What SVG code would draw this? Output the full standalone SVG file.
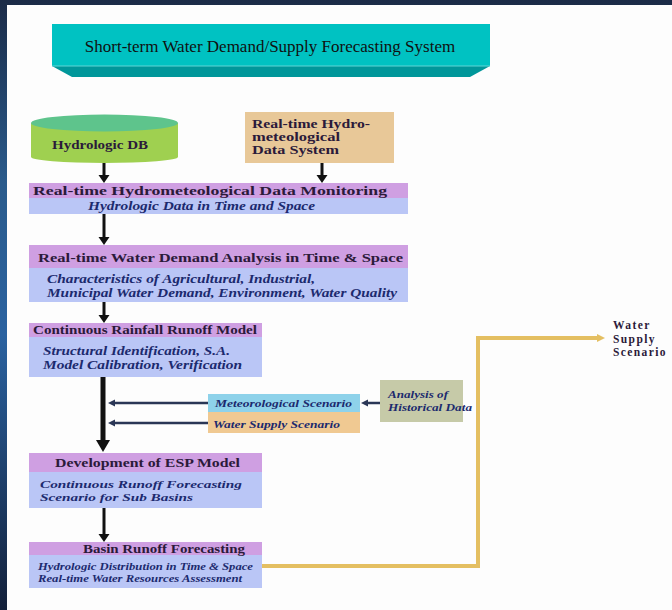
<svg xmlns="http://www.w3.org/2000/svg" width="672" height="610" viewBox="0 0 672 610">
<defs>
<linearGradient id="bg" x1="0" y1="0" x2="0" y2="1">
<stop offset="0" stop-color="#1b2b47"/>
<stop offset="0.3" stop-color="#2a5b8c"/>
<stop offset="0.55" stop-color="#2a62a0"/>
<stop offset="1" stop-color="#13203a"/>
</linearGradient>
<marker id="ab" markerUnits="userSpaceOnUse" markerWidth="12" markerHeight="12" refX="0" refY="5.5" orient="auto"><path d="M0,0 L8,5.5 L0,11 Z" fill="#111"/></marker>
<marker id="abig" markerUnits="userSpaceOnUse" markerWidth="14" markerHeight="16" refX="0" refY="7" orient="auto"><path d="M0,0 L12,7 L0,14 Z" fill="#111"/></marker>
<marker id="an" markerUnits="userSpaceOnUse" markerWidth="10" markerHeight="10" refX="0" refY="3.5" orient="auto"><path d="M0,0 L7,3.5 L0,7 Z" fill="#2a3656"/></marker>
<marker id="ao" markerUnits="userSpaceOnUse" markerWidth="12" markerHeight="12" refX="0" refY="4" orient="auto"><path d="M0,0 L8,4 L0,8 Z" fill="#e4bf62"/></marker>
<style>
.hd{font-family:"Liberation Serif","Times New Roman",serif;font-weight:bold;font-size:12px;fill:#2b1a3a}
.it{font-family:"Liberation Serif","Times New Roman",serif;font-weight:bold;font-style:italic;font-size:12px;fill:#1c2a6e}
.pu{fill:#cf9fe2}
.bl{fill:#bac6f6}
.blk{stroke:#111;stroke-width:3;fill:none}
.nav{stroke:#2a3656;stroke-width:2.5;fill:none}
</style>
</defs>
<rect x="0" y="0" width="672" height="610" fill="url(#bg)"/>
<rect x="7" y="5" width="665" height="605" fill="#fdfdfd"/>

<g id="title">
<rect x="52" y="24" width="438" height="42" fill="#00c2c2"/>
<polygon points="52,66 490,66 470,77 72,77" fill="#00979a"/>
<line x1="52" y1="66" x2="490" y2="66" stroke="#5fd6d6" stroke-width="1"/>
<text x="270" y="52" text-anchor="middle" font-family="'Liberation Serif','Times New Roman',serif" font-size="17" fill="#101010">Short-term Water Demand/Supply Forecasting System</text>
</g>

<g id="connectors">
<line class="blk" x1="104" y1="162" x2="104" y2="175" marker-end="url(#ab)"/>
<line class="blk" x1="322" y1="163" x2="322" y2="175" marker-end="url(#ab)"/>
<line class="blk" x1="104" y1="214" x2="104" y2="237" marker-end="url(#ab)"/>
<line class="blk" x1="104" y1="302" x2="104" y2="315" marker-end="url(#ab)"/>
<line x1="103" y1="377" x2="103" y2="440" stroke="#111" stroke-width="5" marker-end="url(#abig)"/>
<line class="blk" x1="104" y1="508" x2="104" y2="534" marker-end="url(#ab)"/>
<line class="nav" x1="208" y1="403" x2="115" y2="403" marker-end="url(#an)"/>
<line class="nav" x1="208" y1="423" x2="115" y2="423" marker-end="url(#an)"/>
<line class="nav" x1="380" y1="403" x2="368" y2="403" marker-end="url(#an)"/>
<polyline points="262,566 478,566 478,338 597,338" fill="none" stroke="#e4bf62" stroke-width="4" marker-end="url(#ao)"/>
</g>

<g id="hydrologic-db">
<path d="M31,123 L31,157 A73.5,6 0 0 0 178,157 L178,123 Z" fill="#9fd050"/>
<ellipse cx="104.5" cy="123" rx="73.5" ry="8.5" fill="#5ec48c"/>
<text class="hd" x="52" y="149" textLength="96" lengthAdjust="spacingAndGlyphs">Hydrologic DB</text>
</g>

<g id="data-system">
<rect x="245" y="112" width="149" height="51" fill="#e8c898"/>
<text class="hd" x="252" y="128" textLength="118" lengthAdjust="spacingAndGlyphs">Real-time Hydro-</text>
<text class="hd" x="252" y="141" textLength="88" lengthAdjust="spacingAndGlyphs">meteological</text>
<text class="hd" x="252" y="154" textLength="87" lengthAdjust="spacingAndGlyphs">Data System</text>
</g>

<g id="monitoring">
<rect class="pu" x="29" y="183" width="379" height="15"/>
<rect class="bl" x="29" y="198" width="379" height="16"/>
<text class="hd" x="33" y="195" textLength="354" lengthAdjust="spacingAndGlyphs">Real-time Hydrometeological Data Monitoring</text>
<text class="it" x="88" y="210" textLength="227" lengthAdjust="spacingAndGlyphs">Hydrologic Data in Time and Space</text>
</g>

<g id="demand">
<rect class="pu" x="29" y="245" width="379" height="23"/>
<rect class="bl" x="29" y="268" width="379" height="34"/>
<text class="hd" x="38" y="262" textLength="365" lengthAdjust="spacingAndGlyphs">Real-time Water Demand Analysis in Time &amp; Space</text>
<text class="it" x="47" y="283" textLength="268" lengthAdjust="spacingAndGlyphs">Characteristics of Agricultural, Industrial,</text>
<text class="it" x="47" y="297" textLength="350" lengthAdjust="spacingAndGlyphs">Municipal Water Demand, Environment, Water Quality</text>
</g>

<g id="rainfall">
<rect class="pu" x="29" y="323" width="233" height="14"/>
<rect class="bl" x="29" y="337" width="233" height="40"/>
<text class="hd" x="33" y="334" textLength="224" lengthAdjust="spacingAndGlyphs">Continuous Rainfall Runoff Model</text>
<text class="it" x="43" y="355" textLength="187" lengthAdjust="spacingAndGlyphs">Structural Identification, S.A.</text>
<text class="it" x="43" y="369" textLength="199" lengthAdjust="spacingAndGlyphs">Model Calibration, Verification</text>
</g>

<g id="met-scenario">
<rect x="208" y="394" width="152" height="18" fill="#8ed2ea"/>
<text class="it" x="215" y="407" textLength="137" lengthAdjust="spacingAndGlyphs" style="font-size:11px">Meteorological Scenario</text>
</g>

<g id="ws-scenario">
<rect x="208" y="412" width="152" height="21" fill="#f0c992"/>
<text class="it" x="213" y="428" textLength="127" lengthAdjust="spacingAndGlyphs" style="font-size:11px">Water Supply Scenario</text>
</g>

<g id="historical">
<rect x="380" y="380" width="83" height="42" fill="#c6caa8"/>
<text class="it" x="388" y="398" textLength="60" lengthAdjust="spacingAndGlyphs" style="font-size:11px">Analysis of</text>
<text class="it" x="388" y="411" textLength="84" lengthAdjust="spacingAndGlyphs" style="font-size:11px">Historical Data</text>
</g>

<g id="esp">
<rect class="pu" x="29" y="453" width="233" height="19"/>
<rect class="bl" x="29" y="472" width="233" height="36"/>
<text class="hd" x="55" y="467" textLength="185" lengthAdjust="spacingAndGlyphs">Development of ESP Model</text>
<text class="it" x="40" y="488" textLength="202" lengthAdjust="spacingAndGlyphs" style="font-size:11px">Continuous Runoff Forecasting</text>
<text class="it" x="40" y="501" textLength="153" lengthAdjust="spacingAndGlyphs" style="font-size:11px">Scenario for Sub Basins</text>
</g>

<g id="basin">
<rect class="pu" x="29" y="542" width="233" height="13"/>
<rect class="bl" x="29" y="555" width="233" height="33"/>
<text class="hd" x="83" y="553" textLength="162" lengthAdjust="spacingAndGlyphs">Basin Runoff Forecasting</text>
<text class="it" x="38" y="570" textLength="215" lengthAdjust="spacingAndGlyphs" style="font-size:10.5px">Hydrologic Distribution in Time &amp; Space</text>
<text class="it" x="38" y="581.5" textLength="204" lengthAdjust="spacingAndGlyphs" style="font-size:10.5px">Real-time Water Resources Assessment</text>
</g>

<g id="water-supply-scenario">
<text class="hd" x="613" y="329" style="font-size:11.5px" letter-spacing="1.4">Water</text>
<text class="hd" x="613" y="342.5" style="font-size:11.5px" letter-spacing="1.4">Supply</text>
<text class="hd" x="613" y="356" style="font-size:11.5px" letter-spacing="1.4">Scenario</text>
</g>
</svg>
